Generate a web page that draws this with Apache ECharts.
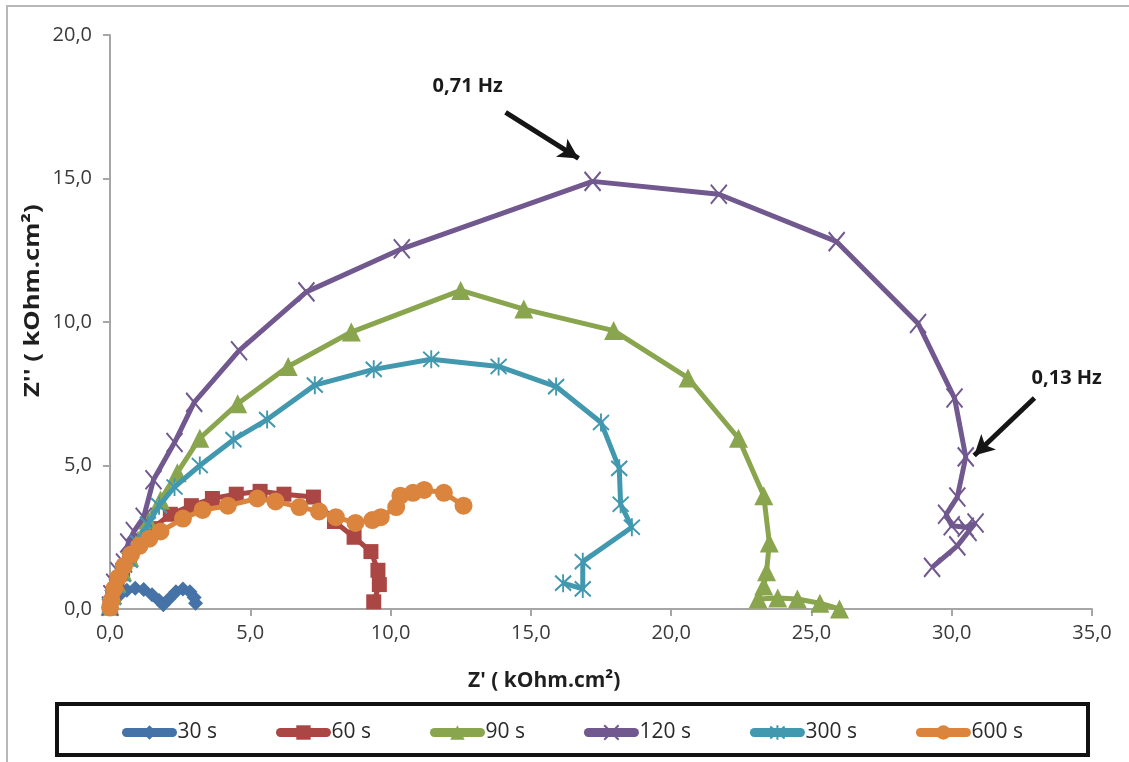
<!DOCTYPE html>
<html>
<head>
<meta charset="utf-8">
<script src="https://cdn.jsdelivr.net/npm/echarts@6/dist/echarts.min.js"></script>
<style>
  html, body { margin: 0; padding: 0; background: #fff; }
  #chart { width: 1129px; height: 762px; }
</style>
</head>
<body>
<div id="chart"></div>
<script>
// Nyquist diagrams: Z' (real) vs Z'' (imaginary), kOhm.cm², by immersion time
const seriesNames = ['30 s', '60 s', '90 s', '120 s', '300 s', '600 s'];

const z30 = [[0.0,0.05],[0.15,0.3],[0.35,0.5],[0.6,0.65],[0.9,0.72],[1.2,0.68],[1.5,0.5],[1.75,0.3],[1.9,0.15],[2.1,0.35],[2.35,0.6],[2.6,0.7],[2.85,0.6],[3.0,0.4],[3.05,0.2]];

const z60 = [[0.0,0.1],[0.1,0.5],[0.25,0.9],[0.45,1.35],[0.7,1.8],[1.05,2.3],[1.5,2.8],[2.15,3.3],[2.9,3.6],[3.65,3.85],[4.5,4.0],[5.35,4.1],[6.2,4.0],[7.25,3.9],[8.0,3.05],[8.7,2.5],[9.3,2.0],[9.55,1.35],[9.6,0.85],[9.4,0.25]];

const z90 = [[0.0,0.1],[0.1,0.5],[0.25,0.9],[0.45,1.3],[0.7,1.8],[1.0,2.4],[1.35,3.1],[1.8,3.8],[2.4,4.75],[3.2,5.95],[4.55,7.15],[6.35,8.45],[8.6,9.65],[12.5,11.1],[14.75,10.45],[17.95,9.7],[20.6,8.05],[22.4,5.95],[23.3,3.95],[23.5,2.3],[23.4,1.3],[23.3,0.8],[23.1,0.35],[23.8,0.38],[24.5,0.35],[25.3,0.2],[26.0,0.0]];

const z120 = [[0.0,0.1],[0.05,0.5],[0.15,0.9],[0.3,1.3],[0.5,1.6],[0.65,2.3],[0.85,2.7],[1.2,3.2],[1.55,4.5],[2.3,5.8],[3.0,7.2],[4.6,9.0],[7.0,11.05],[10.4,12.55],[17.2,14.9],[21.7,14.45],[25.9,12.8],[28.8,9.95],[30.1,7.35],[30.5,5.3],[30.2,3.9],[29.8,3.3],[30.0,2.9],[30.5,2.85],[30.85,3.0],[30.6,2.7],[30.2,2.2],[29.3,1.45]];

const z300 = [[0.0,0.1],[0.1,0.4],[0.25,0.8],[0.45,1.2],[0.7,1.7],[1.0,2.3],[1.35,2.95],[1.75,3.6],[2.3,4.25],[3.2,5.0],[4.4,5.9],[5.6,6.6],[7.3,7.8],[9.4,8.35],[11.45,8.7],[13.85,8.45],[15.9,7.75],[17.5,6.5],[18.15,4.9],[18.2,3.65],[18.6,2.85],[16.85,1.65],[16.85,0.7],[16.15,0.9]];

const z600 = [[0.0,0.05],[0.05,0.3],[0.15,0.7],[0.3,1.1],[0.5,1.5],[0.75,1.9],[1.05,2.2],[1.4,2.45],[1.8,2.7],[2.6,3.15],[3.3,3.45],[4.2,3.6],[5.25,3.85],[5.9,3.75],[6.75,3.55],[7.45,3.4],[8.05,3.2],[8.75,3.0],[9.35,3.1],[9.65,3.2],[10.2,3.55],[10.35,3.95],[10.8,4.05],[11.2,4.15],[11.9,4.05],[12.6,3.6]];

// Frequency call-outs: label text, label anchor and arrow (tail -> head) in data units
const freqNotes = [
  { text: '0,71 Hz', at: [12.75, 18.2], from: [14.1, 17.3], to: [16.7, 15.7] },
  { text: '0,13 Hz', at: [34.1, 8.05], from: [32.95, 7.35], to: [30.8, 5.35] }
];

const xAxisMax = 35, xInterval = 5;
const yAxisMax = 20, yInterval = 5;

const colors = ['#4572A7', '#AA4643', '#89A54E', '#71588F', '#4198AF', '#DB843D'];
const symbols = [
  'diamond',
  'rect',
  'triangle',
  'path://M0,0L10,12M10,0L0,12',
  'path://M5,0L5,12M0,1L10,11M10,1L0,11',
  'circle'
];
const symbolSizes = [15, 15, 19, [16, 19], [16, 18], 18];
const allData = [z30, z60, z90, z120, z300, z600];

const fmt = v => v.toFixed(1).replace('.', ',');
const FONT = '"Open Sans", "Liberation Sans", sans-serif';

const series = seriesNames.map((name, i) => {
  const stroked = i === 3 || i === 4;
  const s = {
    name,
    type: 'line',
    data: allData[i],
    symbol: symbols[i],
    symbolSize: symbolSizes[i],
    showSymbol: true,
    showAllSymbol: true,
    smooth: false,
    animation: false,
    z: 2 + i,
    lineStyle: { color: colors[i], width: 5 },
    itemStyle: stroked
      ? { color: colors[i], borderColor: colors[i], borderWidth: 2 }
      : { color: colors[i] },
    emphasis: { disabled: true }
  };
  if (i === 3) {
    s.markLine = {
      silent: true,
      animation: false,
      symbol: ['none', 'arrow'],
      symbolSize: [16, 20],
      label: { show: false },
      lineStyle: { color: '#151515', width: 5, type: 'solid' },
      emphasis: { disabled: true },
      data: freqNotes.map(n => [{ coord: n.from }, { coord: n.to }])
    };
    s.markPoint = {
      silent: true,
      animation: false,
      symbol: 'circle',
      symbolSize: 1,
      itemStyle: { color: 'rgba(0,0,0,0)' },
      label: {
        show: true,
        position: 'inside',
        formatter: p => p.name,
        color: '#1a1a1a',
        fontFamily: FONT,
        fontWeight: 'bold',
        fontSize: 20
      },
      data: freqNotes.map(n => ({ name: n.text, coord: n.at }))
    };
  }
  return s;
});

const chart = echarts.init(document.getElementById('chart'), null, { renderer: 'canvas' });

chart.setOption({
  backgroundColor: '#ffffff',
  animation: false,
  color: colors,
  grid: { left: 110, right: 37, top: 35, bottom: 153, containLabel: false },
  xAxis: {
    type: 'value',
    min: 0,
    max: xAxisMax,
    interval: xInterval,
    axisLine: { show: true, onZero: false, lineStyle: { color: '#A6A6A6', width: 2 } },
    axisTick: { show: true, inside: false, length: 7, lineStyle: { color: '#A6A6A6', width: 2 } },
    splitLine: { show: false },
    axisLabel: { formatter: fmt, color: '#3a3a3a', fontFamily: FONT, fontSize: 20, margin: 14 }
  },
  yAxis: {
    type: 'value',
    min: 0,
    max: yAxisMax,
    interval: yInterval,
    axisLine: { show: true, onZero: false, lineStyle: { color: '#A6A6A6', width: 2 } },
    axisTick: { show: true, inside: false, length: 7, lineStyle: { color: '#A6A6A6', width: 2 } },
    splitLine: { show: false },
    axisLabel: { formatter: fmt, color: '#3a3a3a', fontFamily: FONT, fontSize: 20, margin: 18 }
  },
  legend: {
    data: seriesNames,
    left: 117,
    top: 717,
    orient: 'horizontal',
    itemWidth: 46,
    itemHeight: 18,
    itemGap: 59,
    lineStyle: { width: 9, cap: 'round' },
    textStyle: { color: '#2a2a2a', fontFamily: FONT, fontSize: 21, padding: [0, 0, 0, 0] },
    selectedMode: false
  },
  graphic: [
    // chart area frame (left and top edges)
    {
      type: 'polyline',
      silent: true,
      shape: { points: [[7, 762], [7, 6], [1129, 6]] },
      style: { stroke: '#B8B8B8', lineWidth: 2, fill: null }
    },
    // legend frame
    {
      type: 'rect',
      silent: true,
      shape: { x: 57, y: 704, width: 1031, height: 51 },
      style: { stroke: '#111111', lineWidth: 4, fill: null }
    },
    // axis titles
    {
      type: 'text',
      silent: true,
      left: 468,
      top: 671,
      style: { text: "Z' ( kOhm.cm²)", fill: '#1f1f1f', font: 'bold 21px ' + FONT }
    },
    {
      type: 'text',
      silent: true,
      rotation: Math.PI / 2,
      scaleX: 1.22,
      x: 23,
      y: 397,
      style: { text: "Z'' ( kOhm.cm²)", fill: '#1f1f1f', font: 'bold 21px ' + FONT, textAlign: 'left', textVerticalAlign: 'top' }
    }
  ],
  series
});
</script>
</body>
</html>
